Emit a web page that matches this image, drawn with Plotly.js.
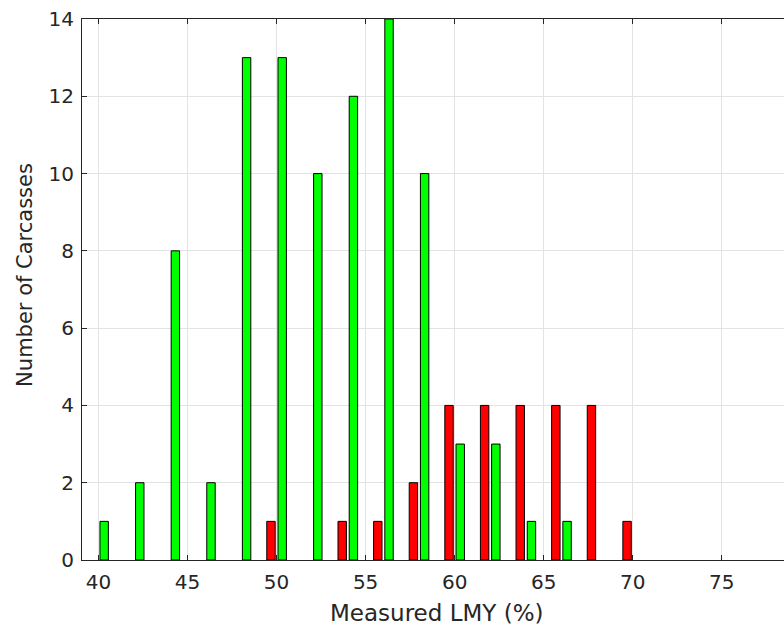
<!DOCTYPE html>
<html>
<head>
<meta charset="utf-8">
<script src="https://cdn.plot.ly/plotly-3.0.1.min.js"></script>
<style>html,body{margin:0;padding:0;background:#fff;}#chart{width:784px;height:632px;}</style>
</head>
<body>
<div id="chart"></div>
<script>
const bins = [40, 42, 44, 46, 48, 50, 52, 54, 56, 58, 60, 62, 64, 66, 68, 70];
const redCounts = [0, 0, 0, 0, 0, 1, 0, 1, 1, 2, 4, 4, 4, 4, 4, 1];
const greenCounts = [1, 2, 8, 2, 13, 13, 10, 12, 14, 10, 3, 3, 1, 1, 0, 0];
const xTicks = [40, 45, 50, 55, 60, 65, 70, 75];
const yTicks = [0, 2, 4, 6, 8, 10, 12, 14];
const xTitle = 'Measured LMY (%)';
const yTitle = 'Number of Carcasses';

const axisColor = '#262626';
const hideZero = arr => arr.map(v => (v === 0 ? null : v));
const traces = [
  {type: 'bar', x: bins, y: hideZero(redCounts), name: 'red',
   marker: {color: '#ff0000', line: {color: '#000000', width: 1}}},
  {type: 'bar', x: bins, y: hideZero(greenCounts), name: 'green',
   marker: {color: '#00ff00', line: {color: '#000000', width: 1}}}
];
const layout = {
  width: 784, height: 632,
  margin: {l: 82, r: 0, t: 19, b: 72},
  paper_bgcolor: '#ffffff', plot_bgcolor: '#ffffff',
  showlegend: false,
  barmode: 'group', bargap: 0.37, bargroupgap: 0.25,
  font: {family: 'DejaVu Sans', color: axisColor, size: 20},
  xaxis: {
    range: [39.07, 78.5], tickvals: xTicks, ticktext: xTicks.map(String),
    ticks: 'inside', ticklen: 5, tickcolor: axisColor, tickwidth: 1,
    showline: true, linecolor: axisColor, linewidth: 1, mirror: 'ticks',
    showgrid: true, gridcolor: '#e3e3e3', gridwidth: 1, zeroline: false,
    tickfont: {size: 20, color: axisColor}, ticklabelstandoff: 4
  },
  yaxis: {
    range: [0, 14], tickvals: yTicks, ticktext: yTicks.map(String),
    ticks: 'inside', ticklen: 5, tickcolor: axisColor, tickwidth: 1,
    showline: true, linecolor: axisColor, linewidth: 1, mirror: false,
    showgrid: true, gridcolor: '#e3e3e3', gridwidth: 1, zeroline: false,
    tickfont: {size: 20, color: axisColor}, ticklabelstandoff: 3
  },
  annotations: [
    {text: xTitle, xref: 'paper', yref: 'paper', x: 0.505, y: -0.098,
     xanchor: 'center', yanchor: 'middle', showarrow: false,
     font: {size: 23, color: axisColor}},
    {text: yTitle, xref: 'paper', yref: 'paper', x: -0.0812, y: 0.527,
     xanchor: 'center', yanchor: 'middle', showarrow: false, textangle: -90,
     font: {size: 21, color: axisColor}}
  ]
};
Plotly.newPlot('chart', traces, layout, {displayModeBar: false, staticPlot: true});
</script>
</body>
</html>
